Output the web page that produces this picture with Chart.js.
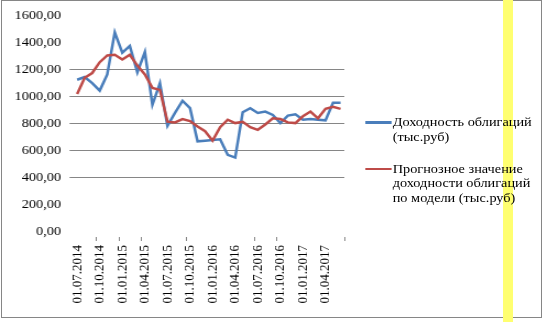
<!DOCTYPE html>
<html>
<head>
<meta charset="utf-8">
<script src="https://cdn.jsdelivr.net/npm/chart.js@4"></script>
<style>
    body { margin: 0; background: #ffffff; }
    #wrap { position: relative; width: 545px; height: 322px; background: #ffffff; overflow: hidden; }
    #band { position: absolute; left: 503px; top: 0; width: 10px; height: 322px; background: #ffff70; }
    #frame { position: absolute; left: 1px; top: 0; width: 541px; height: 318px; border: 1px solid #868686; box-sizing: border-box; }
    #inner { position: absolute; left: 0; top: 0; width: 495px; height: 322px; transform: scaleX(1.1); transform-origin: 0 0; }
    #chart { display: block; }
    .lg-line { position: absolute; height: 2.5px; width: 24px; left: 332px; }
    .lg-text { position: absolute; left: 357px; font-family: 'Liberation Serif', 'Times New Roman', serif; font-size: 13px; line-height: 14.7px; color: #000; white-space: nowrap; }
</style>
</head>
<body>
<div id="wrap">
    <div id="frame"></div>
    <div id="band"></div>
    <div id="inner">
        <canvas id="chart" width="495" height="322"></canvas>
        <div class="lg-line" style="top:121px;background:#4a7ebb"></div>
        <div class="lg-text" style="top:115px">Доходность облигаций<br>(тыс.руб)</div>
        <div class="lg-line" style="top:167.5px;background:#be4b48"></div>
        <div class="lg-text" style="top:161.7px">Прогнозное значение<br>доходности облигаций<br>по модели (тыс.руб)</div>
    </div>
</div>
<script>
// monthly dates
const dates = [
    '01.07.2014', '01.08.2014', '01.09.2014', '01.10.2014', '01.11.2014', '01.12.2014',
    '01.01.2015', '01.02.2015', '01.03.2015', '01.04.2015', '01.05.2015', '01.06.2015',
    '01.07.2015', '01.08.2015', '01.09.2015', '01.10.2015', '01.11.2015', '01.12.2015',
    '01.01.2016', '01.02.2016', '01.03.2016', '01.04.2016', '01.05.2016', '01.06.2016',
    '01.07.2016', '01.08.2016', '01.09.2016', '01.10.2016', '01.11.2016', '01.12.2016',
    '01.01.2017', '01.02.2017', '01.03.2017', '01.04.2017', '01.05.2017', '01.06.2017'
];

// actual bond yield (thousand rub)
const actualYield = [
    1125, 1145, 1100, 1045, 1165, 1475, 1325, 1375, 1180, 1330, 940, 1100,
    785, 880, 970, 915, 670, 675, 680, 685, 570, 550, 885, 915,
    880, 890, 865, 805, 860, 870, 830, 835, 830, 825, 955, 955
];

// model forecast
const forecastYield = [
    1020, 1140, 1175, 1255, 1305, 1310, 1275, 1310, 1230, 1165, 1065, 1050,
    815, 810, 835, 820, 780, 745, 675, 775, 830, 805, 815, 775,
    755, 795, 840, 835, 810, 805, 855, 890, 840, 910, 925, 910
];

const yTicks = [0, 200, 400, 600, 800, 1000, 1200, 1400, 1600];
const gridValues = [400, 600, 800, 1000, 1200];
const tickMarkAt = [3, 6, 9, 15, 24, 27, 36];

const serif = "'Liberation Serif', 'Times New Roman', serif";

// small tick marks under the category axis
const axisTicks = {
    id: 'axisTicks',
    afterDraw(chart) {
        const x = chart.scales.x;
        const ctx = chart.ctx;
        ctx.save();
        ctx.strokeStyle = '#868686';
        ctx.lineWidth = 1;
        tickMarkAt.forEach(i => {
            const px = Math.round(x.getPixelForValue(i - 0.5)) + 0.5;
            ctx.beginPath();
            ctx.moveTo(px, 237);
            ctx.lineTo(px, 241);
            ctx.stroke();
        });
        ctx.restore();
    }
};

new Chart(document.getElementById('chart'), {
    type: 'line',
    data: {
        labels: dates,
        datasets: [{
            label: 'Доходность облигаций (тыс.руб)',
            data: actualYield,
            borderColor: '#4a7ebb',
            borderWidth: 2.5,
            pointRadius: 0,
            tension: 0,
            order: 2
        }, {
            label: 'Прогнозное значение доходности облигаций по модели (тыс.руб)',
            data: forecastYield,
            borderColor: '#be4b48',
            borderWidth: 2.5,
            pointRadius: 0,
            tension: 0,
            order: 1
        }]
    },
    options: {
        responsive: false,
        animation: false,
        layout: {
            padding: { left: 0, right: 182, top: 15, bottom: 0 }
        },
        scales: {
            x: {
                offset: true,
                grid: { display: false, drawTicks: false },
                border: { display: false },
                afterFit: function(scale) { scale.height = 90; },
                ticks: {
                    autoSkip: false,
                    minRotation: 90,
                    maxRotation: 90,
                    padding: 13,
                    color: '#000000',
                    font: { family: serif, size: 13 },
                    callback: function(value, index) {
                        return index % 3 === 0 ? dates[index] : '';
                    }
                }
            },
            y: {
                min: 0,
                max: 1600,
                afterFit: function(scale) { scale.width = 66.7; },
                afterBuildTicks: function(scale) {
                    scale.ticks = yTicks.map(v => ({ value: v }));
                },
                border: { display: false },
                grid: {
                    drawTicks: true,
                    tickLength: 3.5,
                    lineWidth: 1,
                    color: function(context) {
                        return context.tick && gridValues.includes(context.tick.value) ? '#868686' : 'rgba(0,0,0,0)';
                    }
                },
                ticks: {
                    padding: 7.7,
                    color: '#000000',
                    font: { family: serif, size: 13 },
                    callback: function(value) {
                        return value.toFixed(2).replace('.', ',');
                    }
                }
            }
        },
        plugins: {
            legend: { display: false },
            tooltip: { enabled: false }
        }
    },
    plugins: [axisTicks]
});
</script>
</body>
</html>
